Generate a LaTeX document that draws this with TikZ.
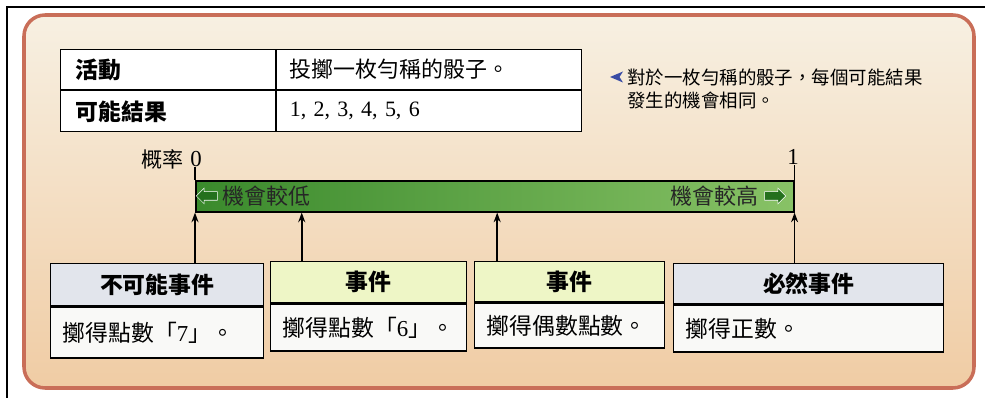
\documentclass[tikz,border=0pt]{standalone}
\usepackage{fontspec}
\setmainfont{Liberation Serif}
\newfontfamily\cjk{Noto Sans CJK TC}
\usetikzlibrary{arrows.meta,shapes.arrows,calc}

\newdimen\pxu
\pxu=0.02cm

\definecolor{panellight}{HTML}{F7F0E2}
\definecolor{paneldark}{HTML}{F0CCA4}
\definecolor{panelrim}{HTML}{C96E58}
\definecolor{barleft}{HTML}{3A8A2C}
\definecolor{barright}{HTML}{88C266}
\definecolor{signgreen}{HTML}{24701D}
\definecolor{headgray}{HTML}{E2E5EC}
\definecolor{headlime}{HTML}{EEF6C6}
\definecolor{bodywhite}{HTML}{F9F9F7}
\definecolor{noteblue}{HTML}{3A4CA5}

\tikzset{
  cell/.style={draw, line width=0.7pt, fill=white, anchor=north west, inner ysep=0pt, align=left, font=\cjk\fontsize{12.5}{15}\selectfont},
  headcell/.style={cell, font=\cjk\bfseries\fontsize{13}{15}\selectfont},
  boxhead/.style={draw, line width=0.8pt, anchor=north west, inner sep=0pt, font=\cjk\bfseries\fontsize{13}{15}\selectfont},
  boxbody/.style={draw, line width=0.8pt, fill=bodywhite, anchor=north west, inner ysep=0pt, inner xsep=12\pxu, align=left, font=\cjk\fontsize{13}{15}\selectfont},
  pointer/.style={-{Stealth[length=5.5pt,width=4pt]}, line width=0.9pt},
  bartext/.style={font=\cjk\fontsize{12.5}{14}\selectfont, text=black!85, inner sep=0pt},
  barsign/.style={single arrow, fill=signgreen, draw=white, line width=0.3pt, minimum height=21\pxu, minimum width=15\pxu, single arrow head extend=3.5\pxu, inner sep=4\pxu},
  notetext/.style={font=\cjk\fontsize{10.5}{12}\selectfont, anchor=west, inner sep=0pt},
  probnum/.style={font=\fontsize{13}{15}\selectfont, inner sep=0pt}
}

\begin{document}
\begin{tikzpicture}[x=0.02cm, y=-0.02cm]
    \useasboundingbox (0,0) rectangle (985,398);

    \draw[line width=0.8pt] (7,398) -- (7,7) -- (985,7);

    \path[draw=panelrim, line width=2pt, rounded corners=12pt, top color=panellight, bottom color=paneldark] (24,15) rectangle (974,388);

    \node[headcell, text width=185\pxu, inner xsep=15\pxu, minimum height=40\pxu] (act) at (60,49) {活動};

    \node[cell, text width=279\pxu, inner xsep=13\pxu, minimum height=40\pxu] (actval) at (act.north east) {投擲一枚勻稱的骰子。};

    \node[headcell, text width=185\pxu, inner xsep=15\pxu, minimum height=41\pxu] (res) at (act.south west) {可能結果};

    \node[cell, text width=279\pxu, inner xsep=13\pxu, minimum height=41\pxu, font=\fontsize{12.5}{15}\selectfont] (resval) at (res.north east) {1, 2, 3, 4, 5, 6};

    \fill[noteblue] (610,77) -- (623,71.5) -- (619.5,77) -- (623,82.5) -- cycle;

    \node[notetext] (notea) at (627,77) {對於一枚勻稱的骰子，每個可能結果};

    \node[notetext] (noteb) at (627,100) {發生的機會相同。};

    \node[draw, line width=0.9pt, left color=barleft, right color=barright, minimum width=598\pxu, minimum height=31\pxu, inner sep=0pt, anchor=north west] (bar) at (195,180) {};

    \node[barsign, shape border rotate=180] (lowsign) at (209,196) {};

    \node[bartext, anchor=west] (lowtext) at (222,196) {機會較低};

    \node[barsign] (highsign) at (773,196) {};

    \node[bartext, anchor=east] (hightext) at (759,196) {機會較高};

    \node[probnum] (pzero) at (196,159) {0};

    \node[anchor=east, inner sep=0pt, font=\cjk\fontsize{12}{14}\selectfont] (plabel) at ($(pzero.west)+(-6,0)$) {概率};

    \node[probnum] (pone) at (793,157) {1};

    \draw[line width=0.9pt] (bar.north west) -- (bar.north west |- pzero.south);

    \draw[line width=0.9pt] (bar.north east) -- (bar.north east |- pone.south);

    \coordinate (qzero) at (bar.south west);

    \coordinate (qsixth) at ($(bar.south west)!0.178!(bar.south east)$);

    \coordinate (qhalf) at ($(bar.south west)!0.504!(bar.south east)$);

    \coordinate (qone) at (bar.south east);

    \node[boxhead, fill=headgray, minimum width=213\pxu, minimum height=42\pxu] (impos) at (50,263) {不可能事件};

    \node[boxbody, text width=189\pxu, minimum height=51\pxu] (imposbody) at (impos.south west) {擲得點數「{\rmfamily 7}」。};

    \node[boxhead, fill=headlime, minimum width=196\pxu, minimum height=41\pxu] (evsix) at (270,261) {事件};

    \node[boxbody, text width=172\pxu, minimum height=47\pxu] (evsixbody) at (evsix.south west) {擲得點數「{\rmfamily 6}」。};

    \node[boxhead, fill=headlime, minimum width=190\pxu, minimum height=40\pxu] (eveven) at (474,261) {事件};

    \node[boxbody, text width=166\pxu, minimum height=45\pxu] (evevenbody) at (eveven.south west) {擲得偶數點數。};

    \node[boxhead, fill=headgray, minimum width=270\pxu, minimum height=40\pxu] (certain) at (673,263) {必然事件};

    \node[boxbody, text width=246\pxu, minimum height=47\pxu] (certainbody) at (certain.south west) {擲得正數。};

    \draw[pointer] (impos.north -| qzero) -- (qzero);

    \draw[pointer] (evsix.north -| qsixth) -- (qsixth);

    \draw[pointer] (eveven.north -| qhalf) -- (qhalf);

    \draw[pointer] (certain.north -| qone) -- (qone);
\end{tikzpicture}
\end{document}
